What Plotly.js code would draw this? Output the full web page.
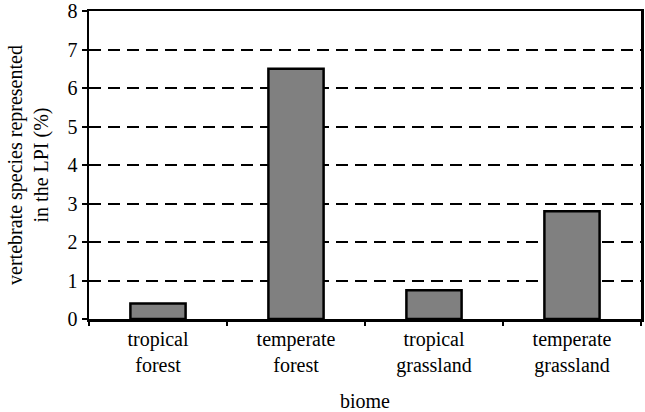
<!DOCTYPE html>
<html>
<head>
<meta charset="utf-8">
<script src="https://cdn.plot.ly/plotly-3.0.1.min.js"></script>
<style>
  html, body { margin: 0; padding: 0; background: #fff; }
  #chart { width: 645px; height: 412px; }
</style>
</head>
<body>
<div id="chart"></div>
<script>
// biome categories and share of species in the LPI
const biomes = ["tropical<br>forest", "temperate<br>forest", "tropical<br>grassland", "temperate<br>grassland"];
const percentRepresented = [0.4, 6.5, 0.75, 2.8];
const yTicks = [0, 1, 2, 3, 4, 5, 6, 7, 8];

const serif = "Liberation Serif, DejaVu Serif";

Plotly.newPlot("chart", [{
  x: biomes,
  y: percentRepresented,
  type: "bar",
  marker: { color: "#808080", line: { color: "#000", width: 2.5 } },
  hoverinfo: "none"
}], {
  width: 645,
  height: 412,
  margin: { l: 89, r: 4, t: 11, b: 93 },
  paper_bgcolor: "#fff",
  plot_bgcolor: "#fff",
  bargap: 0.6,
  showlegend: false,
  font: { family: serif, color: "#000", size: 20 },
  xaxis: {
    type: "category",
    tickson: "boundaries",
    ticks: "outside",
    ticklen: 4,
    tickwidth: 2,
    tickcolor: "#000",
    showline: true,
    linecolor: "#000",
    linewidth: 2.5,
    mirror: true,
    showgrid: false,
    tickfont: { family: serif, size: 20 },
    title: { text: "biome", font: { family: serif, size: 20 }, standoff: 20 }
  },
  yaxis: {
    range: [0, 8],
    tickvals: yTicks,
    ticks: "outside",
    ticklen: 5,
    tickwidth: 2,
    tickcolor: "#000",
    showline: true,
    linecolor: "#000",
    linewidth: 2.5,
    mirror: true,
    showgrid: true,
    gridcolor: "#000",
    gridwidth: 2,
    griddash: "12px,7px",
    zeroline: false,
    ticklabeloverflow: "allow",
    tickfont: { family: serif, size: 20 },
    title: { text: "vertebrate species represented<br>in the LPI (%)", font: { family: serif, size: 20 }, standoff: 14 }
  }
}, { staticPlot: true });
</script>
</body>
</html>
